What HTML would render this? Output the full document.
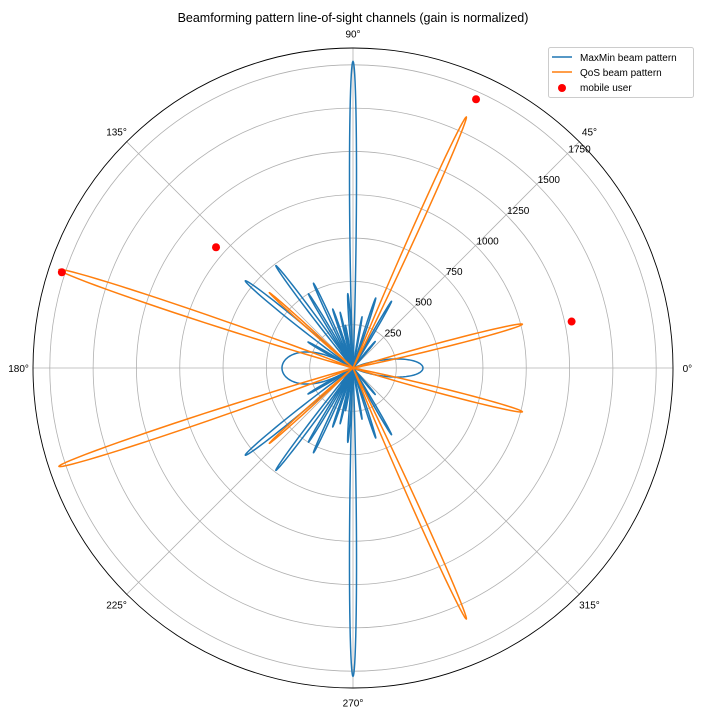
<!DOCTYPE html>
<html><head><meta charset="utf-8"><style>
body{margin:0;background:#fff;}
svg{display:block;font-family:"Liberation Sans","DejaVu Sans",sans-serif;}
</style></head><body>
<svg id="chart" width="720" height="720" viewBox="0 0 720 720">
<rect width="720" height="720" fill="#fff"/>
<text x="353" y="22" font-size="12.5" text-anchor="middle" fill="#000">Beamforming pattern line-of-sight channels (gain is normalized)</text>
<g id="grid"></g>
<g id="series"></g>
<g id="legend">
<rect x="548.5" y="47.5" width="145" height="50" rx="2" fill="#fff" fill-opacity="0.8" stroke="#ccc"/>
<line x1="552" y1="57" x2="572" y2="57" stroke="#1f77b4" stroke-width="1.5"/>
<text x="580" y="61" font-size="10">MaxMin beam pattern</text>
<line x1="552" y1="72" x2="572" y2="72" stroke="#ff7f0e" stroke-width="1.5"/>
<text x="580" y="76" font-size="10">QoS beam pattern</text>
<circle cx="562" cy="88" r="4" fill="#ff0000"/>
<text x="580" y="91" font-size="10">mobile user</text>
</g>
</svg>
<script>
const rTicks=[250,500,750,1000,1250,1500,1750];
const rTickLabels=["250","500","750","1000","1250","1500","1750"];
const angleTicks=[0,45,90,135,180,225,270,315];
const angleLabels=["0°","45°","90°","135°","180°","225°","270°","315°"];
const maxminAngles=[90,270,127,233,141,219,115,245,121,239,109,251,94,266,72,288,60,300,0,180,100,260,80,280,50,310,150,210,103,257];
const maxminPeaks=[1770,1780,740,740,800,800,540,540,500,500,360,360,430,430,425,425,445,445,404,410,250,250,300,300,200,200,300,300,330,330];
const maxminWidths=[2.5,2.5,3,3,4,4,2.5,2.5,2.5,2.5,2.5,2.5,2.5,2.5,2.5,2.5,2.5,2.5,25,30,2,2,2,2,3,3,3,3,2,2];
const maxminShapes=[2,2,2,2,2,2,2,2,2,2,2,2,2,2,2,2,2,2,1.5,0.6,2,2,2,2,2,2,2,2,2,2];
const qosAngles=[65.7,294.3,14.5,345.5,161.5,198.5,138,222];
const qosPeaks=[1590,1590,1010,1010,1790,1790,650,650];
const qosWidths=[2.5,2.5,3.5,3.5,3,3,2,2];
const userAngles=[65.4,12,138.6,161.8];
const userRadii=[1706,1290,1054,1769];

const CX=353,CY=368,RMAX=1847,RPX=320;
const NS='http://www.w3.org/2000/svg';
function rs(v){return v/RMAX*RPX;}
function px(a,r){return CX+rs(r)*Math.cos(a*Math.PI/180);}
function py(a,r){return CY-rs(r)*Math.sin(a*Math.PI/180);}
function mk(tag,attrs,parent){const e=document.createElementNS(NS,tag);for(const k in attrs)e.setAttribute(k,attrs[k]);parent.appendChild(e);return e;}

const grid=document.getElementById('grid');
rTicks.forEach((t,i)=>{
  const c=mk('circle',{cx:CX,cy:CY,r:rs(t),fill:'none',stroke:'#b0b0b0','stroke-width':0.8},grid);
  
  
});
angleTicks.forEach((a,i)=>{
  const l=mk('line',{x1:CX,y1:CY,x2:px(a,RMAX),y2:py(a,RMAX),stroke:'#b0b0b0','stroke-width':0.8},grid);
  
  
  const lr=RMAX*1.045;
  const tx=mk('text',{x:px(a,lr),y:py(a,lr)+4,'font-size':10,'text-anchor':'middle',fill:'#000'},grid);
  tx.textContent=angleLabels[i];
  
  
});
const outer=mk('circle',{cx:CX,cy:CY,r:RPX,fill:'none',stroke:'#000','stroke-width':0.9},grid);


rTicks.forEach((t,i)=>{
  const tx=mk('text',{x:px(45,t)+1,y:py(45,t)-1,'font-size':10,fill:'#000'},grid);
  tx.textContent=rTickLabels[i];
  
  
});

const series=document.getElementById('series');
function lobePath(a,p,w,s){
  let d='M'+CX+' '+CY;
  const n=60;
  for(let k=0;k<=n;k++){
    const t=-w+2*w*k/n;
    const g=p*Math.pow(Math.max(0,Math.cos(Math.PI/2*t/w)),s);
    d+=' L'+px(a+t,g).toFixed(2)+' '+py(a+t,g).toFixed(2);
  }
  return d+' Z';
}
maxminAngles.forEach((a,i)=>{
  const p=mk('path',{d:lobePath(a,maxminPeaks[i],maxminWidths[i],maxminShapes[i]),fill:'none',stroke:'#1f77b4','stroke-width':1.5,'stroke-linejoin':'round'},series);
  
  
});
qosAngles.forEach((a,i)=>{
  const p=mk('path',{d:lobePath(a,qosPeaks[i],qosWidths[i],2),fill:'none',stroke:'#ff7f0e','stroke-width':1.5,'stroke-linejoin':'round'},series);
  
  
});
userAngles.forEach((a,i)=>{
  const c=mk('circle',{cx:px(a,userRadii[i]),cy:py(a,userRadii[i]),r:4,fill:'#ff0000'},series);
  
  
});
</script>
</body></html>
